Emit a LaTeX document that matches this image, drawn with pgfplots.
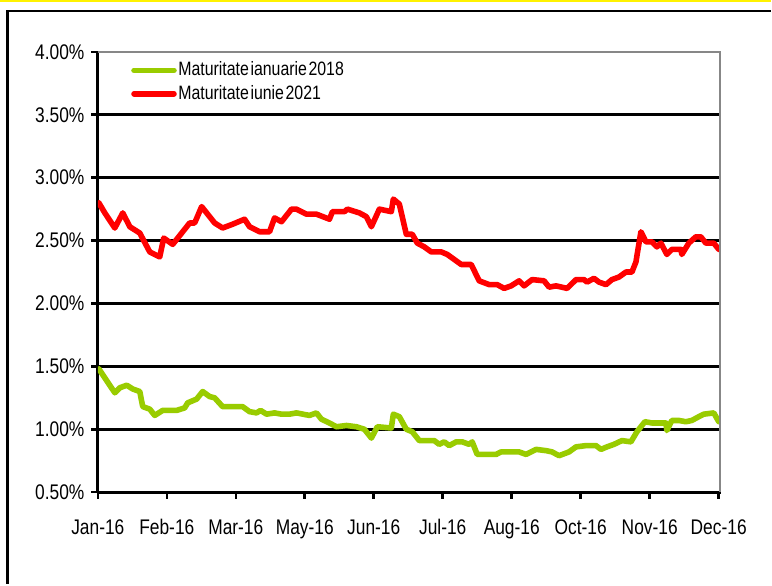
\documentclass[border=0pt]{standalone}
\usepackage{fontspec}
\setmainfont[FakeStretch=0.82]{Liberation Sans}
\usepackage{pgfplots}
\pgfplotsset{compat=1.18}
\definecolor{lgreen}{RGB}{153,204,0}
\definecolor{bordergray}{RGB}{135,135,135}
\begin{document}
\begin{tikzpicture}
\fill[white] (0pt,0pt) rectangle (386pt,292.5pt);
\fill[yellow] (0pt,291.25pt) rectangle (386pt,292.5pt);
\draw[black,line width=1.3pt] (3.75pt,0pt) -- (3.75pt,287pt) -- (386pt,287pt);
\begin{axis}[
  at={(49pt,46pt)}, anchor=south west,
  scale only axis, width=312pt, height=220.5pt,
  xmin=0, xmax=624, ymin=0.5, ymax=4,
  axis x line*=bottom, axis y line*=left,
  axis line style={black,line width=1.6pt,-},
  xtick={0,69.1,138.2,207.3,276.4,345.5,414.6,483.7,552.8,621.9},
  xticklabels={Jan-16,Feb-16,Mar-16,May-16,Jun-16,Jul-16,Aug-16,Oct-16,Nov-16,Dec-16},
  ytick={0.5,1,1.5,2,2.5,3,3.5,4},
  yticklabel={\pgfmathprintnumber[fixed,fixed zerofill,precision=2]{\tick}\%},
  /pgf/number format/assume math mode=true,
  tick align=outside,
  major tick length=3.2pt,
  tick style={black,line width=1.3pt},
  ymajorgrids, major grid style={black,line width=1.3pt},
  ticklabel style={font=\fontsize{10.6}{12}\selectfont},
  xticklabel style={yshift=-7pt},
  legend style={draw=none, fill=none, at={(rel axis cs:0.053,0.982)}, anchor=north west,
    font=\fontsize{9.7}{11}\selectfont, row sep=1.6pt, inner sep=0pt,
    nodes={inner sep=0.8pt}},
  legend cell align=left,
  legend image code/.code={\draw[#1,line width=2.8pt] (0pt,0pt) -- (20pt,0pt);},
]
\addplot[lgreen, line width=2.8pt, line join=round, line cap=round] coordinates {
(1,1.48) (17,1.29) (22,1.33) (29,1.35) (35,1.32) (42,1.30) (45,1.18) (52,1.16) (57,1.11) (65,1.15)
(79,1.15) (87,1.17) (90,1.21) (99,1.24) (105,1.30) (112,1.26) (117,1.25) (125,1.18) (132,1.18) (145,1.18)
(152,1.14) (159,1.13) (163,1.15) (169,1.12) (177,1.13) (184,1.12) (192,1.12) (199,1.13) (212,1.11) (219,1.13)
(224,1.08) (232,1.05) (239,1.02) (249,1.03) (259,1.02) (267,1.00) (274,0.93) (280,1.02) (294,1.01) (296,1.12)
(302,1.10) (309,1.00) (315,0.98) (322,0.91) (337,0.91) (342,0.88) (347,0.90) (352,0.87) (359,0.90) (365,0.90)
(372,0.88) (375,0.90) (380,0.80) (399,0.80) (404,0.82) (415,0.82) (422,0.82) (429,0.80) (439,0.84) (449,0.83)
(455,0.82) (462,0.79) (472,0.82) (479,0.86) (489,0.87) (499,0.87) (504,0.84) (510,0.86) (517,0.88) (525,0.91)
(534,0.90) (540,0.98) (548,1.06) (555,1.05) (569,1.05) (570,0.99) (575,1.07) (582,1.07) (589,1.06) (595,1.07)
(602,1.10) (607,1.12) (617,1.13) (622,1.06)
};
\addlegendentry{Maturitate\hspace{0.08em}ianuarie\hspace{0.08em}2018}
\addplot[red, line width=2.8pt, line join=round, line cap=round] coordinates {
(1,2.80) (7,2.72) (17,2.60) (25,2.72) (32,2.61) (42,2.56) (52,2.41) (62,2.37) (66,2.52) (75,2.47)
(87,2.59) (92,2.64) (97,2.64) (104,2.77) (117,2.64) (125,2.60) (135,2.63) (147,2.67) (152,2.61) (162,2.57)
(172,2.57) (177,2.68) (184,2.65) (194,2.75) (199,2.75) (209,2.71) (219,2.71) (232,2.67) (235,2.73) (247,2.73)
(250,2.75) (262,2.72) (269,2.69) (274,2.61) (282,2.75) (294,2.73) (296,2.83) (302,2.79) (309,2.55) (315,2.55)
(320,2.48) (327,2.45) (334,2.41) (344,2.41) (350,2.39) (357,2.35) (364,2.31) (374,2.31) (382,2.18) (392,2.15)
(400,2.15) (407,2.12) (414,2.14) (422,2.18) (427,2.14) (435,2.19) (447,2.18) (452,2.13) (459,2.14) (470,2.12)
(479,2.19) (487,2.19) (490,2.17) (497,2.20) (502,2.17) (509,2.15) (515,2.19) (522,2.21) (529,2.25) (535,2.25)
(539,2.33) (544,2.57) (549,2.49) (555,2.49) (560,2.45) (564,2.48) (570,2.39) (575,2.43) (584,2.43) (585,2.39)
(592,2.48) (599,2.53) (604,2.53) (609,2.48) (617,2.48) (622,2.43)
};
\addlegendentry{Maturitate\hspace{0.08em}iunie\hspace{0.08em}2021}
\draw[bordergray,line width=1.5pt] (rel axis cs:0,1) -- (rel axis cs:1,1) -- (rel axis cs:1,0);
\end{axis}
\end{tikzpicture}
\end{document}
